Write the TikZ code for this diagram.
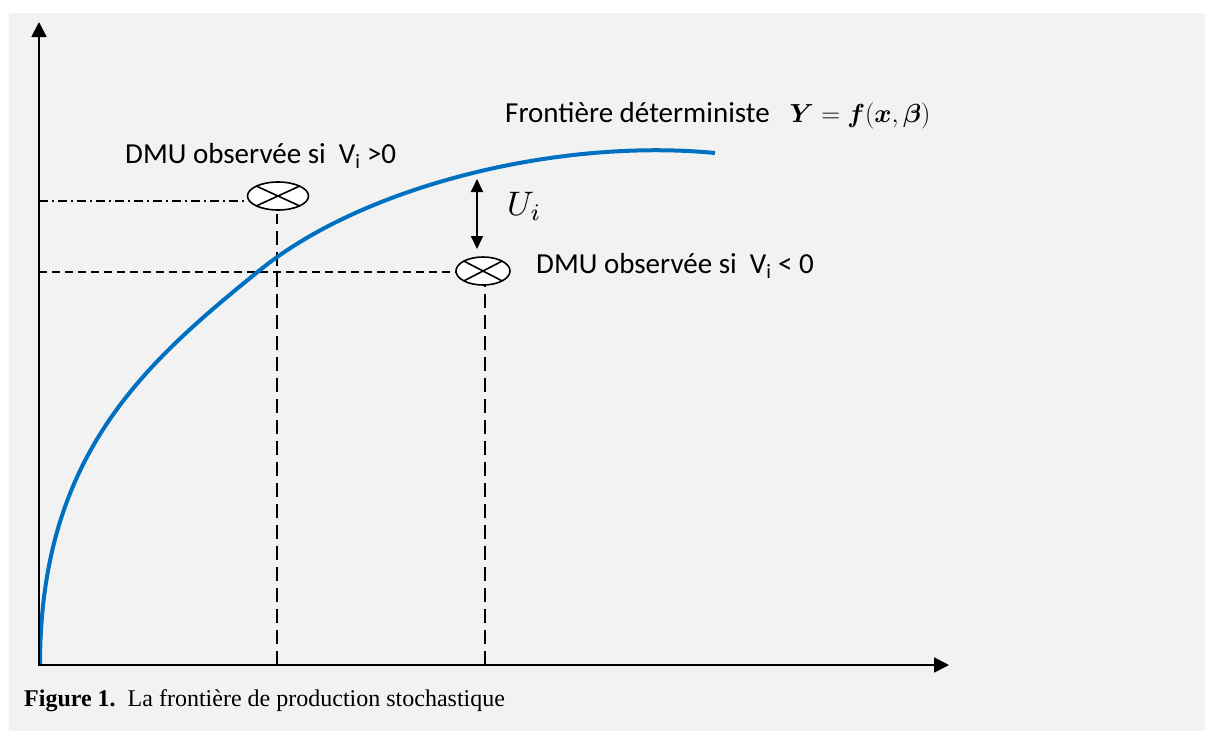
\documentclass[tikz,border=0pt]{standalone}
\usepackage{amsmath,bm}
\usepackage{graphicx}
\usepackage{fontspec}
\setmainfont{Carlito}
\newfontfamily\capfont{Liberation Serif}
\usetikzlibrary{arrows.meta,shapes.geometric}
\definecolor{bggray}{HTML}{F2F2F2}
\definecolor{curveblue}{HTML}{0070C0}
\tikzset{
  axisline/.style={line width=1.8pt,-{Triangle[width=15pt,length=15pt]}},
  dmu/.style={draw,ellipse,fill=white,line width=1.6pt,inner sep=0pt,outer sep=0pt,minimum width=#1,minimum height=28pt},
  guideh/.style={line width=1.3pt,dash pattern=on 8pt off 5pt},
  guidev/.style={line width=1.3pt,dash pattern=on 14pt off 7pt},
  guidedd/.style={line width=1.3pt,dash pattern=on 9pt off 4pt on 2pt off 4pt},
  lbl/.style={font=\fontsize{29}{33}\selectfont,inner sep=0pt,anchor=base west},
}
\begin{document}
\begin{tikzpicture}[x=1pt,y=-1pt]
\useasboundingbox (0,0) rectangle (1205,731);
\fill[white] (0,0) rectangle (1205,731);
\fill[bggray] (9,13) rectangle (1205,731);
% axes
\coordinate (O) at (39,665);
\coordinate (ytop) at (39,22);
\coordinate (xend) at (949,665);
% ellipses
\node[dmu=61pt] (e1) at (278,196) {};
\node[dmu=54pt] (e2) at (483,271) {};
\foreach \e in {e1,e2}{
  \draw[line width=1.6pt] (\e.north west) -- (\e.south east);
  \draw[line width=1.6pt] (\e.north east) -- (\e.south west);
}
% guide lines
\coordinate (h1) at (39,201);
\coordinate (h1e) at (248,201);
\coordinate (h2) at (39,272);
\coordinate (v1) at (277,665);
\coordinate (v2) at (485,665);
\coordinate (v1t) at (277,214);
\draw[guidedd] (h1) -- (h1e);
\draw[guideh] (h2) -- (e2.west |- h2);
\draw[guidev] (v1) -- (v1t);
\draw[guidev] (v2) -- (v2 |- e2.south);
% curve
\coordinate (c0) at (40,665);
\coordinate (c1) at (260,270);
\coordinate (c2) at (715,153);
\draw[curveblue,line width=4pt,line cap=butt] (c0) .. controls (40,455) and (145,363) .. (c1)
  .. controls (365,185) and (560,138) .. (c2);
\draw[axisline] (O) -- (ytop);
\draw[axisline] ([xshift=-0.9pt]O) -- (xend);
% Ui arrow
\coordinate (ua) at (477,179);
\coordinate (ub) at (477,249);
\draw[line width=1.8pt,{Triangle[width=12pt,length=13pt]}-{Triangle[width=12pt,length=13pt]}] (ua) -- (ub);
\node[inner sep=0pt,anchor=base west] (ui) at (507,215) {\scalebox{3.4}{$U_i$}};
% labels
\node[lbl] (t1) at (125,163) {DMU observée si\ \ V\textsubscript{i} >0};
\node[lbl] (t2) at (536,273) {DMU observée si\ \ V\textsubscript{i} < 0};
\node[lbl] (t3) at (505,122) {Frontière déterministe\hspace{20pt}\scalebox{1.05}{$\bm{Y}=\bm{f}(\bm{x},\bm{\beta})$}};
\node[inner sep=0pt,anchor=base west,font=\capfont\fontsize{24}{28}\selectfont] (cap) at (24,706) {\textbf{Figure 1.}\ \ La frontière de production stochastique};
\end{tikzpicture}
\end{document}
